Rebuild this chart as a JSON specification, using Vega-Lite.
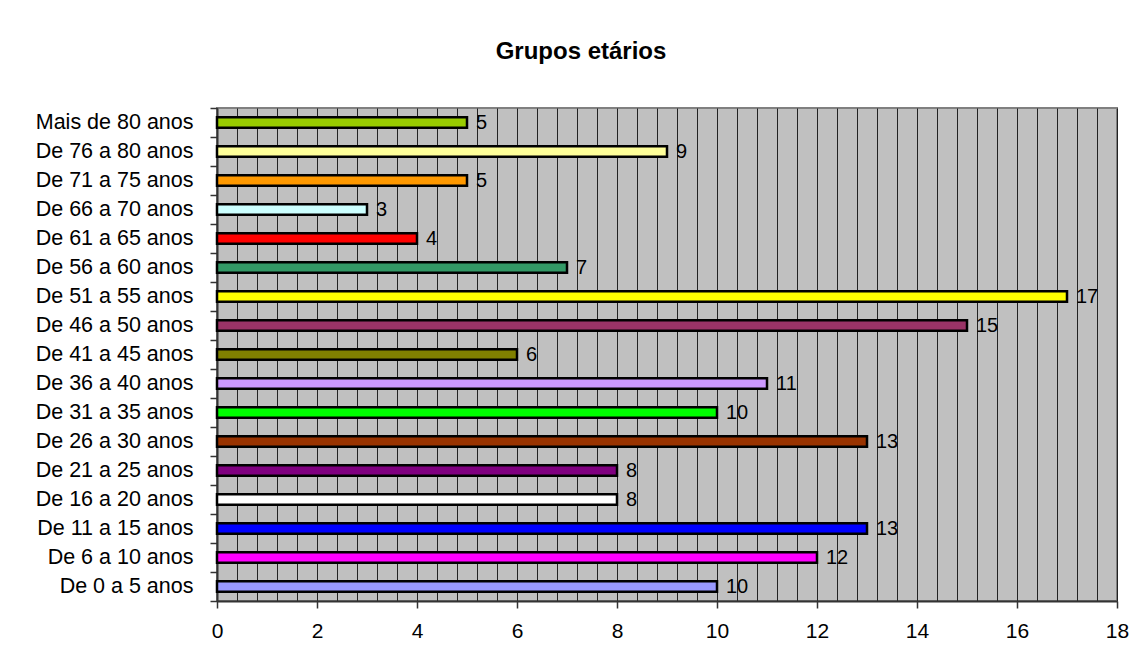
{
  "$schema": "https://vega.github.io/schema/vega-lite/v6.json",
  "width": 900,
  "height": 493,
  "autosize": {"type": "none"},
  "padding": {"left": 217, "top": 108, "right": 23, "bottom": 62},
  "background": "white",
  "title": {
    "text": "Grupos etários",
    "font": "Liberation Sans",
    "fontSize": 24,
    "fontWeight": "bold",
    "color": "black",
    "anchor": "middle",
    "dx": -86,
    "offset": 14,
    "baseline": "alphabetic"
  },
  "data": {
    "values": [
      {"faixa": "Mais de 80 anos", "pessoas": 5},
      {"faixa": "De 76 a 80 anos", "pessoas": 9},
      {"faixa": "De 71 a 75 anos", "pessoas": 5},
      {"faixa": "De 66 a 70 anos", "pessoas": 3},
      {"faixa": "De 61 a 65 anos", "pessoas": 4},
      {"faixa": "De 56 a 60 anos", "pessoas": 7},
      {"faixa": "De 51 a 55 anos", "pessoas": 17},
      {"faixa": "De 46 a 50 anos", "pessoas": 15},
      {"faixa": "De 41 a 45 anos", "pessoas": 6},
      {"faixa": "De 36 a 40 anos", "pessoas": 11},
      {"faixa": "De 31 a 35 anos", "pessoas": 10},
      {"faixa": "De 26 a 30 anos", "pessoas": 13},
      {"faixa": "De 21 a 25 anos", "pessoas": 8},
      {"faixa": "De 16 a 20 anos", "pessoas": 8},
      {"faixa": "De 11 a 15 anos", "pessoas": 13},
      {"faixa": "De 6 a 10 anos", "pessoas": 12},
      {"faixa": "De 0 a 5 anos", "pessoas": 10}
    ]
  },
  "encoding": {
    "y": {
      "field": "faixa",
      "type": "nominal",
      "sort": null,
      "scale": {"paddingInner": 0, "paddingOuter": 0},
      "axis": {
        "title": null,
        "tickBand": "extent",
        "tickSize": 7,
        "tickColor": "#333333",
        "tickWidth": 1.5,
        "domainColor": "#333333",
        "domainWidth": 2,
        "labelFont": "Liberation Sans",
        "labelFontSize": 21.5,
        "labelColor": "black",
        "labelPadding": 17,
        "grid": false
      }
    },
    "x": {
      "field": "pessoas",
      "type": "quantitative",
      "scale": {"domain": [0, 18], "nice": false},
      "axis": {
        "title": null,
        "values": [0, 0.4, 0.8, 1.2, 1.6, 2, 2.4, 2.8, 3.2, 3.6, 4, 4.4, 4.8, 5.2, 5.6, 6, 6.4, 6.8, 7.2, 7.6, 8, 8.4, 8.8, 9.2, 9.6, 10, 10.4, 10.8, 11.2, 11.6, 12, 12.4, 12.8, 13.2, 13.6, 14, 14.4, 14.8, 15.2, 15.6, 16, 16.4, 16.8, 17.2, 17.6, 18],
        "grid": true,
        "gridColor": "#222222",
        "gridWidth": 1,
        "labelExpr": "datum.value % 2 === 0 ? format(datum.value, 'd') : ''",
        "tickOpacity": {"condition": {"test": "datum.value % 2 === 0", "value": 1}, "value": 0},
        "tickSize": 7,
        "tickColor": "#333333",
        "tickWidth": 1.5,
        "domainColor": "#333333",
        "domainWidth": 2,
        "labelFont": "Liberation Sans",
        "labelFontSize": 21,
        "labelColor": "black",
        "labelPadding": 12,
        "labelOverlap": false,
        "labelFlush": false
      }
    }
  },
  "layer": [
    {
      "mark": {"type": "bar", "height": {"band": 0.36}, "stroke": "black", "strokeWidth": 2.5},
      "encoding": {
        "color": {
          "field": "faixa",
          "type": "nominal",
          "legend": null,
          "scale": {
            "domain": ["Mais de 80 anos", "De 76 a 80 anos", "De 71 a 75 anos", "De 66 a 70 anos", "De 61 a 65 anos", "De 56 a 60 anos", "De 51 a 55 anos", "De 46 a 50 anos", "De 41 a 45 anos", "De 36 a 40 anos", "De 31 a 35 anos", "De 26 a 30 anos", "De 21 a 25 anos", "De 16 a 20 anos", "De 11 a 15 anos", "De 6 a 10 anos", "De 0 a 5 anos"],
            "range": ["#99CC00", "#FFFF99", "#FF9900", "#CCFFFF", "#FF0000", "#339966", "#FFFF00", "#993366", "#808000", "#CC99FF", "#00FF00", "#993300", "#800080", "#FFFFFF", "#0000FF", "#FF00FF", "#9999FF"]
          }
        }
      }
    },
    {
      "mark": {"type": "text", "align": "left", "baseline": "middle", "dx": 9, "font": "Liberation Sans", "fontSize": 20, "color": "black"},
      "encoding": {"text": {"field": "pessoas", "type": "quantitative"}}
    }
  ],
  "config": {
    "view": {"stroke": "#808080", "strokeWidth": 2, "fill": "#C0C0C0"}
  }
}
